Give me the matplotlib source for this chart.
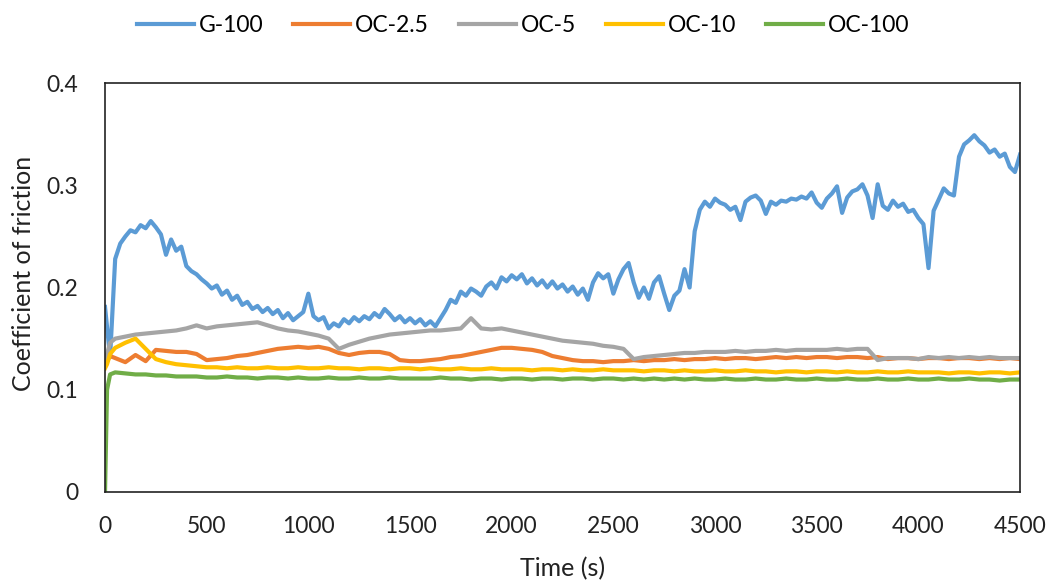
import numpy as np
import matplotlib
matplotlib.use("Agg")
import matplotlib.pyplot as plt

plt.rcParams['font.family'] = ['Lato', 'DejaVu Sans']

# G-100 read every 25 s
g100 = [
    0.181, 0.132, 0.228, 0.243, 0.250, 0.256, 0.254, 0.261, 0.258, 0.265,
    0.259, 0.252, 0.232, 0.247, 0.236, 0.240, 0.221, 0.216, 0.213, 0.208,
    0.204, 0.199, 0.202, 0.193, 0.197, 0.188, 0.192, 0.183, 0.186, 0.179,
    0.182, 0.176, 0.180, 0.174, 0.178, 0.170, 0.175, 0.168, 0.172, 0.176,
    0.194, 0.172, 0.168, 0.171, 0.160, 0.165, 0.162, 0.169, 0.165, 0.171,
    0.167, 0.172, 0.169, 0.175, 0.171, 0.179, 0.174, 0.168, 0.172, 0.166,
    0.170, 0.165, 0.169, 0.163, 0.167, 0.162, 0.170, 0.178, 0.188, 0.185,
    0.196, 0.192, 0.199, 0.196, 0.192, 0.201, 0.205, 0.199, 0.210, 0.206,
    0.212, 0.208, 0.213, 0.204, 0.209, 0.202, 0.207, 0.200, 0.206, 0.199,
    0.203, 0.196, 0.201, 0.193, 0.199, 0.188, 0.205, 0.214, 0.209, 0.213,
    0.194, 0.208, 0.218, 0.224, 0.205, 0.190, 0.200, 0.189, 0.205, 0.211,
    0.194, 0.178, 0.192, 0.197, 0.218, 0.200, 0.255, 0.276, 0.284, 0.279,
    0.287, 0.283, 0.281, 0.276, 0.279, 0.266, 0.284, 0.288, 0.290, 0.285,
    0.272, 0.284, 0.281, 0.285, 0.284, 0.287, 0.286, 0.289, 0.287, 0.293,
    0.283, 0.278, 0.287, 0.292, 0.299, 0.273, 0.288, 0.294, 0.296, 0.301,
    0.290, 0.268, 0.301, 0.280, 0.276, 0.285, 0.279, 0.282, 0.274, 0.276,
    0.268, 0.262, 0.219, 0.275, 0.286, 0.297, 0.292, 0.290, 0.328, 0.340,
    0.344, 0.349, 0.343, 0.339, 0.332, 0.335, 0.328, 0.331, 0.318, 0.313,
    0.330,
]
t_g = np.linspace(0, 4500, len(g100))

# other coatings: 0, 10, 25 s then every 50 s
t_oc = [0, 10, 25] + list(range(50, 4501, 50))

oc_2_5 = [
    0.125, 0.128, 0.133,
    0.131, 0.127, 0.134, 0.128, 0.139, 0.138, 0.137, 0.137, 0.135, 0.129,
    0.130, 0.131, 0.133, 0.134, 0.136, 0.138, 0.140, 0.141, 0.142, 0.141,
    0.142, 0.140, 0.136, 0.134, 0.136, 0.137, 0.137, 0.135, 0.129, 0.128,
    0.128, 0.129, 0.130, 0.132, 0.133, 0.135, 0.137, 0.139, 0.141, 0.141,
    0.140, 0.139, 0.137, 0.133, 0.131, 0.129, 0.128, 0.128, 0.127, 0.128,
    0.128, 0.129, 0.128, 0.129, 0.129, 0.130, 0.129, 0.130, 0.130, 0.131,
    0.130, 0.131, 0.131, 0.130, 0.131, 0.132, 0.131, 0.132, 0.131, 0.132,
    0.132, 0.131, 0.132, 0.132, 0.131, 0.132, 0.130, 0.131, 0.131, 0.130,
    0.131, 0.131, 0.130, 0.131, 0.131, 0.130, 0.131, 0.130, 0.131, 0.130,
]

oc_5 = [
    0.130, 0.135, 0.146,
    0.150, 0.152, 0.154, 0.155, 0.156, 0.157, 0.158, 0.160, 0.163, 0.160,
    0.162, 0.163, 0.164, 0.165, 0.166, 0.163, 0.160, 0.158, 0.157, 0.155,
    0.153, 0.150, 0.140, 0.144, 0.147, 0.150, 0.152, 0.154, 0.155, 0.156,
    0.157, 0.158, 0.158, 0.159, 0.160, 0.170, 0.160, 0.159, 0.160, 0.158,
    0.156, 0.154, 0.152, 0.150, 0.148, 0.147, 0.146, 0.145, 0.143, 0.142,
    0.140, 0.130, 0.132, 0.133, 0.134, 0.135, 0.136, 0.136, 0.137, 0.137,
    0.137, 0.138, 0.137, 0.138, 0.138, 0.139, 0.138, 0.139, 0.139, 0.139,
    0.139, 0.140, 0.139, 0.140, 0.140, 0.129, 0.131, 0.131, 0.131, 0.130,
    0.132, 0.131, 0.132, 0.131, 0.132, 0.131, 0.132, 0.131, 0.131, 0.131,
]

oc_10 = [
    0.121, 0.125, 0.135,
    0.141, 0.146, 0.150, 0.140, 0.130, 0.127, 0.125, 0.124, 0.123, 0.122,
    0.122, 0.121, 0.122, 0.121, 0.121, 0.122, 0.121, 0.121, 0.122, 0.121,
    0.121, 0.122, 0.121, 0.121, 0.120, 0.121, 0.121, 0.120, 0.121, 0.121,
    0.120, 0.121, 0.120, 0.120, 0.121, 0.120, 0.120, 0.121, 0.120, 0.120,
    0.120, 0.119, 0.120, 0.120, 0.119, 0.120, 0.119, 0.119, 0.120, 0.119,
    0.119, 0.119, 0.118, 0.119, 0.119, 0.118, 0.119, 0.118, 0.118, 0.119,
    0.118, 0.118, 0.119, 0.118, 0.118, 0.117, 0.118, 0.118, 0.117, 0.118,
    0.118, 0.117, 0.118, 0.117, 0.117, 0.118, 0.117, 0.117, 0.118, 0.117,
    0.117, 0.117, 0.116, 0.117, 0.117, 0.116, 0.117, 0.117, 0.116, 0.117,
]

oc_100 = [
    0.000, 0.100, 0.115,
    0.117, 0.116, 0.115, 0.115, 0.114, 0.114, 0.113, 0.113, 0.113, 0.112,
    0.112, 0.113, 0.112, 0.112, 0.111, 0.112, 0.112, 0.111, 0.112, 0.111,
    0.111, 0.112, 0.111, 0.111, 0.112, 0.111, 0.111, 0.112, 0.111, 0.111,
    0.111, 0.111, 0.112, 0.111, 0.111, 0.110, 0.111, 0.111, 0.110, 0.111,
    0.111, 0.110, 0.111, 0.111, 0.110, 0.111, 0.111, 0.110, 0.111, 0.111,
    0.110, 0.111, 0.110, 0.111, 0.110, 0.111, 0.110, 0.111, 0.110, 0.110,
    0.111, 0.110, 0.110, 0.111, 0.110, 0.110, 0.111, 0.110, 0.110, 0.111,
    0.110, 0.110, 0.111, 0.110, 0.110, 0.111, 0.110, 0.110, 0.111, 0.110,
    0.110, 0.111, 0.110, 0.110, 0.111, 0.110, 0.110, 0.109, 0.110, 0.110,
]

labels = ['G-100', 'OC-2.5', 'OC-5', 'OC-10', 'OC-100']
colors = ['#5B9BD5', '#ED7D31', '#A5A5A5', '#FFC000', '#70AD47']
x_ticks = [0, 500, 1000, 1500, 2000, 2500, 3000, 3500, 4000, 4500]
y_ticks = [0, 0.1, 0.2, 0.3, 0.4]

fig = plt.figure(figsize=(10.48, 5.85), dpi=100)
ax = fig.add_axes([0.1002, 0.159, 0.8731, 0.699])

series = [(t_g, g100), (t_oc, oc_2_5), (t_oc, oc_5), (t_oc, oc_10), (t_oc, oc_100)]
for (t, v), lab, col in zip(series, labels, colors):
    ax.plot(t, v, color=col, lw=3.0, label=lab, solid_joinstyle='round')

ax.set_xlim(0, 4500)
ax.set_ylim(0, 0.4)
ax.set_xticks(x_ticks)
ax.set_yticks(y_ticks)
ax.set_yticklabels(['0', '0.1', '0.2', '0.3', '0.4'])
ax.tick_params(axis='both', length=0, labelsize=16.5, colors='#222222')
ax.tick_params(axis='x', pad=17)
ax.tick_params(axis='y', pad=19)
for s in ax.spines.values():
    s.set_color('#222222')
    s.set_linewidth(1.2)

ax.set_xlabel('Time (s)', fontsize=18, color='#222222')
ax.set_ylabel('Coefficient of friction', fontsize=18, color='#222222')
ax.xaxis.set_label_coords(0.5, -0.158)
ax.yaxis.set_label_coords(-0.077, 0.535)

fig.legend(loc='center', bbox_to_anchor=(0.499, 0.957), ncol=5, frameon=False,
           fontsize=16.5, handlelength=2.5, handletextpad=0.2, columnspacing=1.3)

fig.savefig('out.png', dpi=100)
